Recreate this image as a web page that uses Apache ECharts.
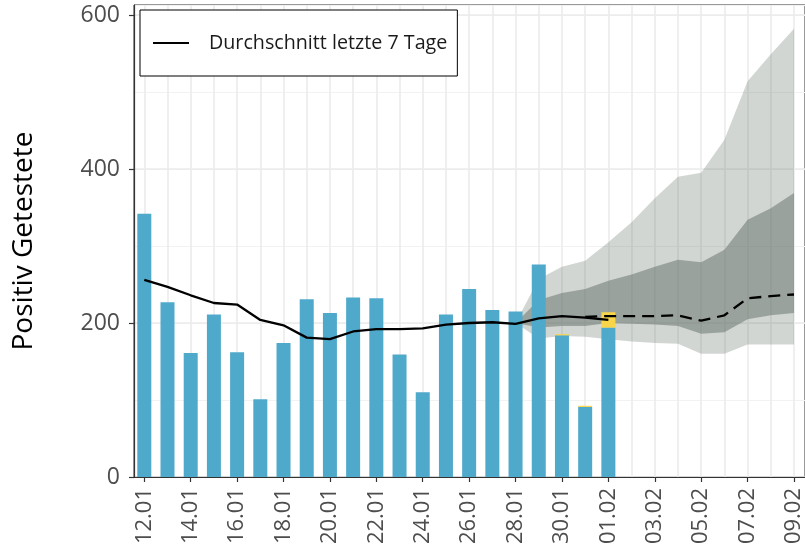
<!DOCTYPE html>
<html>
<head>
<meta charset="utf-8">
<script src="https://cdn.jsdelivr.net/npm/echarts@6/dist/echarts.min.js"></script>
<style>
  html, body { margin: 0; padding: 0; background: #fff; }
  #chart { width: 805px; height: 557px; }
</style>
</head>
<body>
<div id="chart"></div>
<script>
// Tage (x-Achse)
const days = ['12.01', '13.01', '14.01', '15.01', '16.01', '17.01', '18.01', '19.01', '20.01', '21.01',
  '22.01', '23.01', '24.01', '25.01', '26.01', '27.01', '28.01', '29.01', '30.01', '31.01',
  '01.02', '02.02', '03.02', '04.02', '05.02', '06.02', '07.02', '08.02', '09.02'];

// Positiv Getestete pro Tag
const positive = [342, 227, 161, 211, 162, 101, 174, 231, 213, 233,
  232, 159, 110, 211, 244, 217, 215, 276, 184, 91,
  194, null, null, null, null, null, null, null, null];
// gelber Aufsatz (Nachmeldungen)
const pending = [null, null, null, null, null, null, null, null, null, null,
  null, null, null, null, null, null, null, null, 1.5, 1.5,
  20, null, null, null, null, null, null, null, null];

// Durchschnitt letzte 7 Tage
const avg7 = [256, 247, 236, 226, 224, 204, 197, 181, 179, 189,
  192, 192, 193, 198, 200, 201, 199, 206, 209, 207,
  204, null, null, null, null, null, null, null, null];
// Prognose (gestrichelt)
const forecast = [null, null, null, null, null, null, null, null, null, null,
  null, null, null, null, null, null, null, null, null, 208,
  209, 209, 209, 210, 203, 210, 232, 235, 237];

// Prognosebänder ab 28.01
const pad = new Array(16).fill(null);
const lightLow  = pad.concat([200, 180, 183, 182, 179, 176, 174, 173, 160, 160, 172, 172, 172]);
const lightHigh = pad.concat([200, 257, 273, 281, 305, 331, 362, 390, 395, 438, 514, 549, 582]);
const darkLow   = pad.concat([200, 194, 196, 196, 200, 199, 198, 196, 186, 188, 205, 210, 213]);
const darkHigh  = pad.concat([200, 230, 239, 244, 255, 263, 273, 282, 279, 295, 334, 349, 369]);

const yTicks = [0, 200, 400, 600];

const diff = (hi, lo) => hi.map((v, i) => (v == null ? null : v - lo[i]));

const chart = echarts.init(document.getElementById('chart'));
const font = 'Open Sans';
const ribbon = 'rgb(95,107,98)';

const option = {
  animation: false,
  textStyle: { fontFamily: font },
  grid: [
    { left: 134, right: 0, top: 5, bottom: 80, show: true, borderColor: '#333', borderWidth: 1, backgroundColor: 'transparent' },
    { left: 144.3, right: 10.7, top: 5, bottom: 80 }
  ],
  legend: {
    data: ['Durchschnitt letzte 7 Tage'],
    left: 140,
    top: 10,
    padding: [23, 10, 23, 13],
    backgroundColor: '#fff',
    borderColor: '#000',
    borderWidth: 1,
    borderRadius: 0,
    icon: 'rect',
    itemWidth: 36,
    itemHeight: 2,
    itemStyle: { color: '#000' },
    textStyle: { fontFamily: font, fontSize: 19.7, color: '#1a1a1a', padding: [0, 0, 0, 15] }
  },
  xAxis: [
    {
      type: 'value', gridIndex: 0, min: 0, max: 1,
      axisLine: { show: true, lineStyle: { color: '#333', width: 1.2 } },
      axisTick: { show: false }, axisLabel: { show: false }, splitLine: { show: false }
    },
    {
      type: 'category', gridIndex: 1, data: days, boundaryGap: false,
      axisLine: { show: false },
      axisTick: { show: true, interval: 1, length: 5, lineStyle: { color: '#333', width: 1.2 } },
      axisLabel: { interval: 1, rotate: 90, margin: 11, fontSize: 22, color: '#4d4d4d', fontFamily: font },
      splitLine: { show: true, interval: 0, lineStyle: { color: '#ebebeb', width: 1.6 } }
    }
  ],
  yAxis: [
    {
      type: 'value', gridIndex: 0, position: 'left', min: 0, max: 613, interval: 100,
      axisLine: { show: false }, axisTick: { show: false }, axisLabel: { show: false },
      splitLine: { show: true, lineStyle: { color: '#f2f2f2', width: 1 } }
    },
    {
      type: 'value', gridIndex: 0, position: 'left', min: 0, max: 613,
      name: 'Positiv Getestete', nameLocation: 'middle', nameGap: 96,
      nameTextStyle: { fontFamily: font, fontSize: 28, color: '#000' },
      axisLine: { show: true, lineStyle: { color: '#333', width: 1.2 } },
      axisTick: { show: true, length: 5, customValues: yTicks, lineStyle: { color: '#333', width: 1.2 } },
      axisLabel: { customValues: yTicks, margin: 14, fontSize: 23, color: '#4d4d4d', fontFamily: font },
      splitLine: { show: true, lineStyle: { color: '#ebebeb', width: 1.6 } }
    },
    {
      type: 'value', gridIndex: 1, min: 0, max: 613, show: false,
      splitLine: { show: false }
    }
  ],
  series: [
    { type: 'line', xAxisIndex: 1, yAxisIndex: 2, z: 2, data: lightLow, stack: 'light', symbol: 'none', lineStyle: { width: 0 } },
    { type: 'line', xAxisIndex: 1, yAxisIndex: 2, z: 2, data: diff(lightHigh, lightLow), stack: 'light', symbol: 'none',
      lineStyle: { width: 0 }, areaStyle: { color: ribbon, opacity: 0.28 } },
    { type: 'line', xAxisIndex: 1, yAxisIndex: 2, z: 2, data: darkLow, stack: 'dark', symbol: 'none', lineStyle: { width: 0 } },
    { type: 'line', xAxisIndex: 1, yAxisIndex: 2, z: 2, data: diff(darkHigh, darkLow), stack: 'dark', symbol: 'none',
      lineStyle: { width: 0 }, areaStyle: { color: ribbon, opacity: 0.48 } },
    { type: 'bar', xAxisIndex: 1, yAxisIndex: 2, z: 3, data: positive, stack: 'bars', barWidth: 14,
      itemStyle: { color: '#4fa9cb' } },
    { type: 'bar', xAxisIndex: 1, yAxisIndex: 2, z: 3, data: pending, stack: 'bars', barWidth: 14,
      itemStyle: { color: '#f9d54a' } },
    { name: 'Durchschnitt letzte 7 Tage', type: 'line', xAxisIndex: 1, yAxisIndex: 2, z: 4, data: avg7, symbol: 'none',
      lineStyle: { color: '#000', width: 2.3 }, itemStyle: { color: '#000' } },
    { type: 'line', xAxisIndex: 1, yAxisIndex: 2, z: 4, data: forecast, symbol: 'none',
      lineStyle: { color: '#000', width: 2.3, type: [12, 7] } }
  ]
};

chart.setOption(option);
</script>
</body>
</html>
